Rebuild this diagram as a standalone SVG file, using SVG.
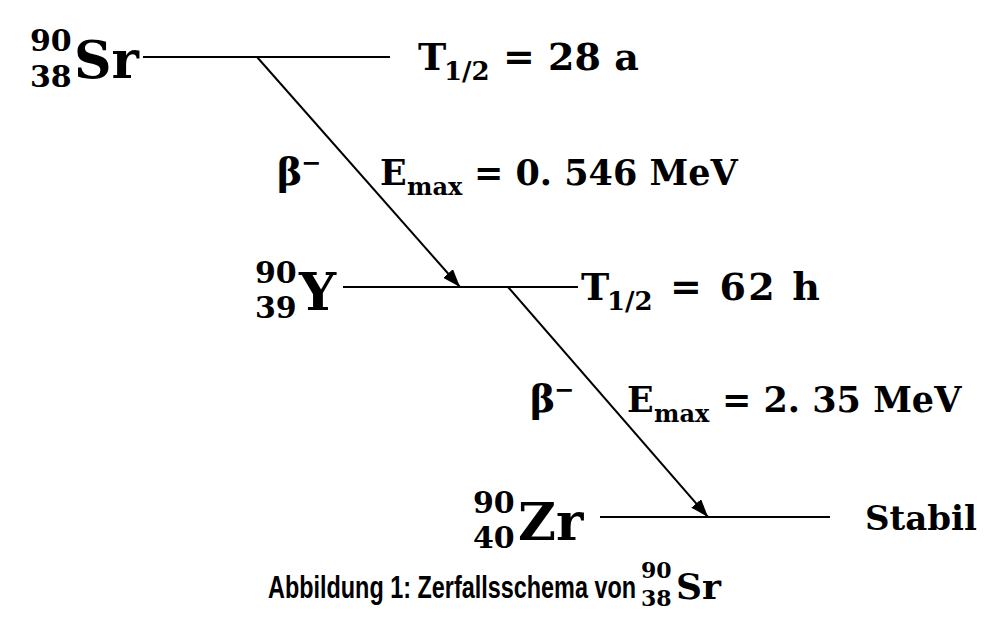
<svg xmlns="http://www.w3.org/2000/svg" width="991" height="631" viewBox="0 0 991 631">
<style>
.m{font-family:"DejaVu Serif","Liberation Serif",serif;font-weight:bold;fill:#000}
.big{font-size:52px}
.sc{font-size:30px}
.t{font-size:38px}
.ts{font-size:26px}
.e{font-size:35px}
.es{font-size:24px}
.cap{font-family:"Liberation Sans Narrow","Liberation Sans",sans-serif;font-weight:bold;font-size:32px;fill:#000}
.lv{stroke:#000;stroke-width:2;fill:none}
.ar{stroke:#000;stroke-width:2;fill:none;marker-end:url(#ah)}
</style>
<defs>
<marker id="ah" viewBox="0 0 18 13" refX="18" refY="6.5" markerWidth="18" markerHeight="13" markerUnits="userSpaceOnUse" orient="auto">
<path d="M0,0 L18,6.5 L0,13 z" fill="#000"/>
</marker>
</defs>
<rect width="991" height="631" fill="#fff"/>
<g id="sr">
<text class="m sc" x="30" y="51">90</text>
<text class="m sc" x="30" y="87">38</text>
<text class="m big" x="74" y="78">Sr</text>
<text class="m t" x="418" y="70">T</text>
<text class="m ts" x="444" y="80">1/2</text>
<text class="m t" x="503" y="70">= 28 a</text>
</g>
<g id="y">
<text class="m sc" x="255" y="283">90</text>
<text class="m sc" x="255" y="318">39</text>
<text class="m big" x="299" y="310">Y</text>
<text class="m t" x="581" y="300">T</text>
<text class="m ts" x="607" y="310">1/2</text>
<text class="m t" x="670" y="300" textLength="150" lengthAdjust="spacing">= 62 h</text>
</g>
<g id="zr">
<text class="m sc" x="473" y="513">90</text>
<text class="m sc" x="473" y="548">40</text>
<text class="m big" x="518" y="540">Zr</text>
<text class="m" font-size="34" x="865" y="530">Stabil</text>
</g>
<g id="labels">
<text class="m t" x="277" y="185">β</text>
<text class="m es" x="301" y="171">−</text>
<text class="m e" x="380" y="185">E</text>
<text class="m es" x="407" y="195">max</text>
<text class="m e" x="474" y="185">= 0. 546 MeV</text>
<text class="m t" x="530" y="412">β</text>
<text class="m es" x="554" y="398">−</text>
<text class="m e" x="627" y="412">E</text>
<text class="m es" x="654" y="422">max</text>
<text class="m e" x="722" y="412">= 2. 35 MeV</text>
</g>
<g id="connectors">
<line class="lv" x1="143" y1="57" x2="390" y2="57"/>
<line class="lv" x1="343" y1="287" x2="578" y2="287"/>
<line class="lv" x1="600" y1="517" x2="830" y2="517"/>
<line class="ar" x1="257" y1="57" x2="460" y2="287"/>
<line class="ar" x1="508" y1="287" x2="708" y2="517"/>
</g>
<g id="caption">
<text class="cap" x="268" y="598" textLength="368" lengthAdjust="spacingAndGlyphs">Abbildung 1: Zerfallsschema von</text>
<text class="m" font-size="22" x="641" y="578">90</text>
<text class="m" font-size="22" x="641" y="606">38</text>
<text class="m" font-size="36" x="676" y="599">Sr</text>
</g>
</svg>
